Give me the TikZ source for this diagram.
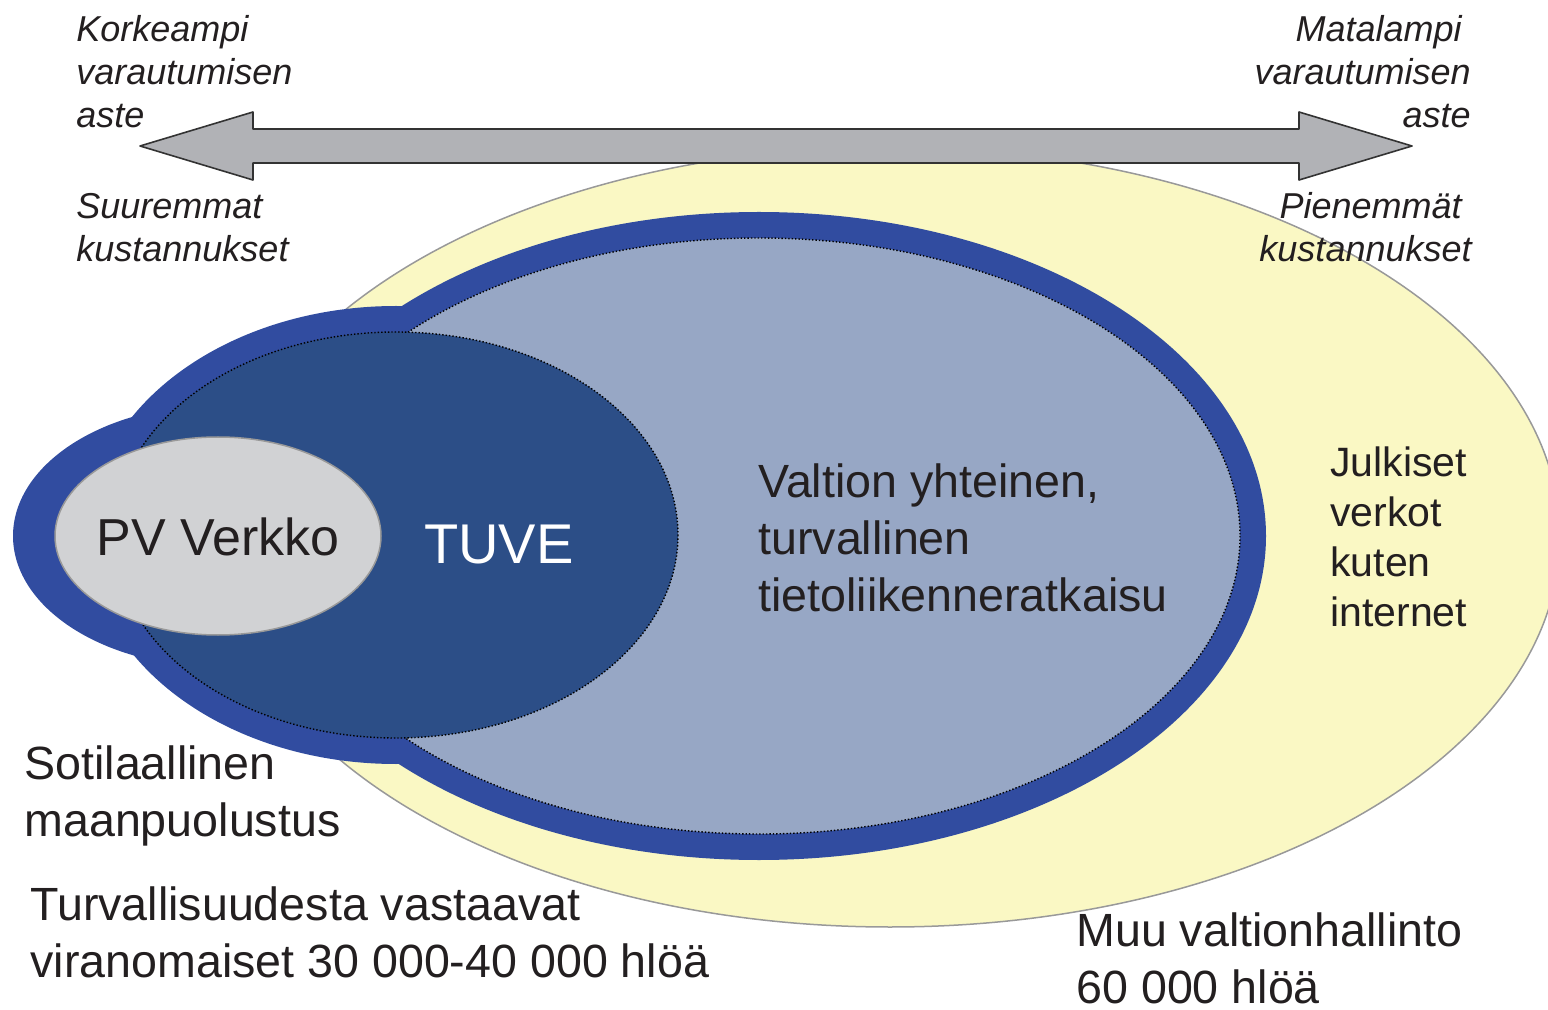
\documentclass[tikz,border=0pt]{standalone}
\usepackage{fontspec}
\setmainfont{Liberation Sans}
\definecolor{keltainen}{HTML}{FAF8C4}
\definecolor{reunasini}{HTML}{314CA0}
\definecolor{vaaleasini}{HTML}{97A7C5}
\definecolor{tummasini}{HTML}{2C4E87}
\definecolor{pvharmaa}{HTML}{D1D2D4}
\definecolor{nuoliharmaa}{HTML}{B1B2B6}
\definecolor{teksti}{HTML}{231F20}

\begin{document}
\begin{tikzpicture}
	[
		x=0.5pt,
		y=-0.5pt,
		line join=round,
		kursiivi/.style={font=\fontsize{18}{21.5}\selectfont\itshape, text=teksti, inner sep=0pt},
		iso/.style={font=\fontsize{23.3}{28.5}\selectfont, text=teksti, inner sep=0pt},
		pisteet/.style={draw=black, line width=0.7pt, densely dotted}
	]
		\useasboundingbox (0,0) rectangle (1548,1010);
		\coordinate (valtioC) at (759,536);
		\coordinate (tuveC) at (396,535);
		\coordinate (pvC) at (218,536);
		% keltainen alue
		\draw [fill=keltainen, draw=gray!80, line width=0.75pt] (890,537) ellipse (670 and 390);
		% sininen reuna
		\fill [reunasini] (valtioC) ellipse (507 and 324);
		\fill [reunasini] (tuveC) ellipse (308 and 229);
		\fill [reunasini] (pvC) ellipse (205 and 131);
		% sisemmat alueet
		\fill [vaaleasini] (valtioC) ellipse (481 and 298);
		\draw [pisteet] (valtioC) ellipse (481 and 298);
		\fill [tummasini] (tuveC) ellipse (282 and 203);
		\draw [pisteet] (tuveC) ellipse (282 and 203);
		\draw [fill=pvharmaa, draw=gray!80, line width=0.75pt] (pvC) ellipse (163 and 99);
		% nuoli
		\draw [fill=nuoliharmaa, draw=black!80, line width=0.8pt]
			(140,146) -- (253,112) -- (253,129) -- (1299,129) -- (1299,112) -- (1412,146)
			-- (1299,180) -- (1299,163) -- (253,163) -- (253,180) -- cycle;
		% tekstit (ankkuri viimeisen rivin pohjaviivalla)
		\draw (76,128) node[kursiivi, anchor=base west, align=left] (korkeampi) {Korkeampi\\varautumisen\\aste};
		\draw (76,262) node[kursiivi, anchor=base west, align=left] (suuremmat) {Suuremmat\\kustannukset};
		\draw (1471,128) node[kursiivi, anchor=base east, align=right] (matalampi) {Matalampi\hspace*{4.5pt}\\varautumisen\hspace*{5.5pt}\\aste};
		\draw (1472,262) node[kursiivi, anchor=base east, align=right] (pienemmat) {Pienemmät\hspace*{5pt}\\kustannukset};
		\draw (218,555) node[font=\fontsize{26}{31}\selectfont, text=teksti, inner sep=0pt, anchor=base] (pv) {PV Verkko};
		\draw (499,563) node[font=\fontsize{28}{34}\selectfont, text=white, inner sep=0pt, anchor=base] (tuve) {TUVE};
		\draw (758,611) node[iso, anchor=base west, align=left] (valtio) {Valtion yhteinen,\\turvallinen\\tietoliikenneratkaisu};
		\draw (1330,626) node[iso, font=\fontsize{20.5}{25}\selectfont, anchor=base west, align=left] (julkiset) {Julkiset\\verkot\\kuten\\internet};
		\draw (24,836) node[iso, anchor=base west, align=left] (sotilaallinen) {Sotilaallinen\\maanpuolustus};
		\draw (30,977) node[iso, anchor=base west, align=left] (turvallisuus) {Turvallisuudesta vastaavat\\viranomaiset 30 000-40 000 hlöä};
		\draw (1076,1003) node[iso, anchor=base west, align=left] (muu) {Muu valtionhallinto\\60 000 hlöä};
\end{tikzpicture}
\end{document}
